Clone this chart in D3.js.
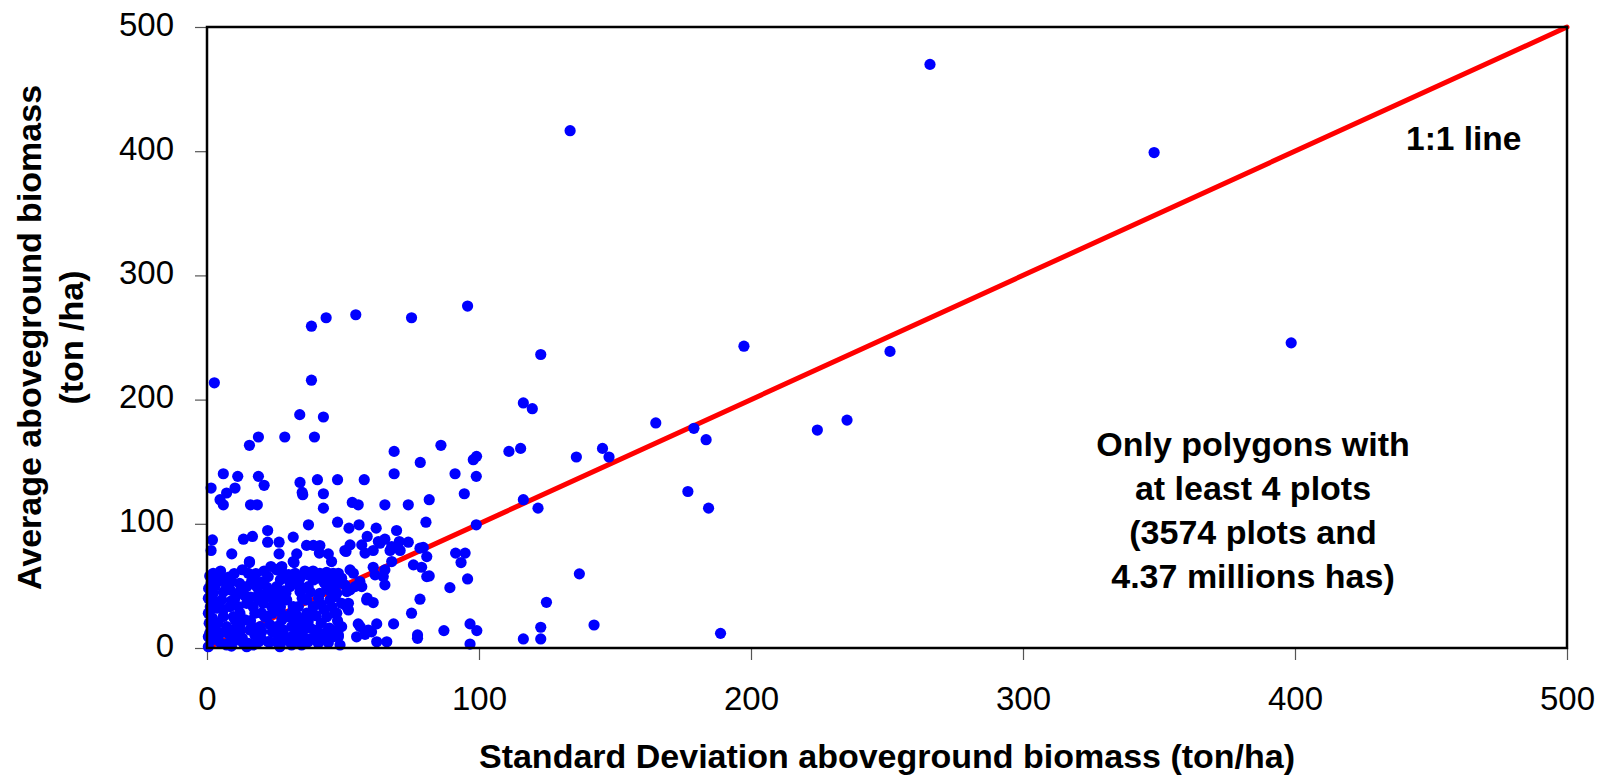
<!DOCTYPE html>
<html>
<head>
<meta charset="utf-8">
<script src="https://cdn.jsdelivr.net/npm/d3@7"></script>
<style>
  html, body { margin: 0; padding: 0; background: #fff; }
  svg { display: block; font-family: "Liberation Sans", Arial, Helvetica, sans-serif; }
</style>
</head>
<body>
<svg id="chart" width="1608" height="781"></svg>
<script>
// ---- data ----
const xTicks = [0, 100, 200, 300, 400, 500];
const yTicks = [0, 100, 200, 300, 400, 500];
const xTitle = "Standard Deviation aboveground biomass (ton/ha)";
const yTitleLines = ["Average aboveground biomass", "(ton /ha)"];
const lineLabel = "1:1 line";
const noteLines = ["Only polygons with", "at least 4 plots", "(3574 plots and", "4.37 millions has)"];
const oneToOne = [[0, 0], [500, 500]];

// Standard deviation (x) and average (y) aboveground biomass, ton/ha
const sdValues = [
  2.7, 38.4, 43.8, 54.7, 75.2, 95.8, 38.4, 34.1, 42.8, 18.9, 15.6, 28.6, 39.5, 68.8, 78.4, 86, 97.9, 99.1,
  6, 68.8, 91.2, 11.3, 18.9, 21, 1.5, 10.3, 7.2, 4.8, 6, 16, 18.5, 34.2, 35, 40.6, 42.8, 48, 42.8, 37.3, 48,
  22.3, 2, 13.4, 16.7, 22.3, 26.5, 31.7, 36.6, 39.1, 1.5, 9.1, 26.5, 33, 41.5, 44.6, 15.6, 31.7, 23.5, 27.5, 45.8,
  57.8, 99, 94.6, 81.7, 53.4, 55.6, 65.4, 74, 52.2, 55.9, 62.2, 69.7, 80.5, 99, 58.9, 63, 65.4, 70.7, 74,
  52.6, 56.9, 50.7, 58.1, 61.1, 67.3, 71, 79.5, 80.8, 91.4, 94.9, 93.4, 67.9, 75.9, 78.9, 61.1, 65.4, 52.6,
  81.7, 95.8, 61.8, 64.8, 65.4, 89.3, 48.3, 48.3, 54.4, 56.9, 51.4, 78.3, 58.9, 61.1, 52, 52, 75.2, 47.7,
  55.6, 62.4, 68.6, 96.7, 99.2, 87.1, 77.4, 77.4, 55, 58.1, 60.5, 48.3, 62.4, 66.1, 96.7,
  197.4, 122.7, 116.3, 119.6, 165, 179, 183.5, 111, 115.3, 135.8, 145.4, 147.8, 116.3, 121.7, 176.8, 184.4,
  136.9, 124.8, 122.7, 116.3, 122.7, 142.3, 188.8, 224.4, 235.3, 251.1, 265.8, 348.2, 398.6, 133.5,
  2.3, 4.8, 9.1, 15.6, 32, 41.3, 26.8, 46.4, 53.8, 51.1, 35.2, 80.8, 63.6, 67.9, 78.3, 52.6, 58.7, 51.4, 56.3, 59.3,
  0.5, 2.3, 0.5, 1.5, 0.5, 0.5, 3.6, 6, 4.8, 7.2, 10.3, 12.1, 14.6, 15.2, 16.4, 18.3, 20.7, 22.5,
  14.6, 17.6, 15.8, 17, 12.1, 9.7, 22.5, 25.6, 23.8, 26.8, 21.9, 25.6, 22.5, 26.2,
  29.3, 31.7, 30.5, 33, 34.2, 29.9, 32.4, 33, 31.1, 34.8, 37.2, 39.1, 41.5, 36.7, 39.1, 41.5, 37.2, 40.3, 38.5, 40.9,
  44, 46.4, 45.2, 47.7, 44, 43.4, 46.4, 7.2, 5.4, 8.5, 9.7, 7.2, 12.1, 14, 11.5, 13.4, 7.8, 18.9, 19.5, 18.3, 14.6, 20.7, 20.1,
  28.1, 29.3, 26.8, 36.7, 35.4, 33.6, 49.5, 50.7, 56.2, 2, 4.8, 8.5, 11.5, 17.6, 25.6, 32.4, 34.2, 37.2, 40.3,
  44.6, 47.1, 49.5, 47.1, 49.5, 48.3, 31.1, 34.8, 21.3, 27.5, 11.5, 10.3, 16.4, 2.9, 4.2, 1.1, 11.5, 17.6, 20.1,
  26.2, 28.7, 33.6, 37.2, 42.2, 44.6, 48.9, 41.5, 23.2, 25.6, 15.2,
  1, 0.8, 1.2, 0.6, 1.5, 2, 2.5, 3, 1, 3.6, 5.4, 1.1, 5, 9, 12, 16, 24, 28, 30, 36, 27, 42, 45, 19, 8, 13, 44, 28, 21,
  3, 6, 9, 12, 14, 17, 19, 22, 24, 27, 29, 31, 35, 38, 40, 43, 45, 47, 4, 6, 10, 13, 16, 20, 23, 28, 31, 35, 38, 42,
  46, 48, 5, 10, 18, 27, 34, 39, 43, 8, 24, 30, 36, 12, 21, 3, 25, 33, 41, 47
];
const avgValues = [
  213.5, 259.1, 265.9, 268.3, 265.9, 275.3, 215.6, 187.9, 186, 169.9, 163.2, 169.9, 169.9, 158.3, 149.4, 163.2, 151.6, 154.3,
  140.3, 140.3, 140.3, 138.2, 138.2, 131, 128.8, 128.8, 124.8, 119.4, 115.3, 115.3, 115.3, 133.3, 125.3, 135.5, 124.2, 135.5, 112.6, 99.2, 101.3,
  94.6, 87, 87.6, 89.8, 85.2, 85.2, 89.3, 82.6, 82.6, 78.5, 75.8, 75.8, 75.8, 82.5, 75.8, 69.6, 69.6, 65.6, 65.6, 69.6,
  135.5, 138.2, 124.2, 119.4, 117.2, 115.3, 115.3, 115.3, 96.5, 99.2, 96.5, 94.6, 101.3, 99.2, 89.8, 85.7, 87.6, 85.7, 85.2,
  83, 83, 78.5, 76.4, 78.5, 78.5, 78.5, 81, 73.6, 76.4, 76.4, 68.8, 69.6, 66.9, 65, 65, 62.9, 62.9,
  58, 55.6, 58.9, 57.5, 50.8, 48.6, 60.2, 52.2, 49.4, 49.4, 45.4, 39.3, 40.1, 36.6, 36, 30.6, 28, 28,
  19.4, 19.4, 19.4, 19.4, 14, 14, 10.5, 7.8, 9, 11, 13, 10.5, 5, 5, 3.2,
  243, 236.3, 197.3, 192.7, 181.2, 176.9, 167.7, 158.3, 160.7, 153.8, 160.7, 153.8, 119.4, 112.6, 126, 112.6,
  59.7, 36.8, 16.7, 7.3, 7.3, 18.5, 11.8, 175.5, 183.5, 238.8, 469.9, 398.9, 245.7, 416.5,
  60.2, 58.9, 53.5, 68.8, 68.8, 76.4, 64.3, 60.2, 60.2, 77.7, 123.4, 57.5, 84.4, 81.7, 80.4, 46.8, 38.7, 33.3, 17.2, 14.5,
  40, 44, 28, 17, 9, 1, 32, 25.3, 11.9, 2.4, 40, 45.4, 49.4, 60.2, 53.5, 49.4, 53.5, 57.5,
  36, 28, 14.5, 2.4, 17.2, 10.5, 44.1, 49.4, 33.3, 38.7, 25.2, 17.2, 5.1, 6.5,
  38.7, 33.3, 49.4, 54.8, 45.4, 25.2, 19.9, 11.9, 2.4, 2.4, 49.4, 54.8, 60.2, 38.7, 33.3, 44.1, 21.2, 14.5, 7.8, 3.8,
  49.4, 54.8, 38.7, 44.1, 25.2, 11.9, 9.1, 49.4, 38.7, 33.3, 25.2, 17.2, 28, 22.6, 9.1, 3.8, 11.9, 38.7, 17.2, 11.9, 1, 36, 28,
  14.5, 6.5, 1, 28, 14.5, 33.3, 56.2, 50.8, 53.5, 57.5, 54.3, 46.8, 44.1, 54.8, 62.9, 60.2, 56.2, 58.9, 56.2,
  46.8, 41.4, 36, 28, 17.2, 9.1, 17.2, 14.5, 25.2, 22.6, 33.3, 22.6, 17.2, 17.2, 11.9, 7.8, 6.5, 10.5, 13.1,
  10.5, 6.5, 6.5, 5.1, 7.8, 4.3, 2.4, 10.5, 5, 5, 3.8,
  12, 20, 33, 48, 52, 24, 7, 15, 58, 57.5, 56.2, 41.4, 4, 1.5, 13, 41, 40, 46, 55, 62, 29, 35, 16, 5, 57, 63, 61, 60, 62,
  50, 45, 38, 52, 42, 33, 44, 49, 28, 33, 44, 28, 22, 45, 26, 31, 57, 50, 20, 31, 15, 8, 22, 7, 19, 10, 9, 40, 16, 20,
  33, 22, 62, 60, 60, 55, 50, 62, 53, 4, 13, 59, 8, 24, 40, 37, 44, 26, 40, 14
];

// ---- chart ----
const svg = d3.select("#chart");
const plotLeft = 207, plotRight = 1567, plotTop = 27, plotBottom = 648;
const x = d3.scaleLinear().domain([0, 500]).range([plotLeft, plotRight]);
const y = d3.scaleLinear().domain([0, 500]).range([plotBottom, plotTop]);
const font = '"Liberation Sans", Arial, Helvetica, sans-serif';

// axes (ticks + labels)
const xAxis = svg.append("g").attr("transform", `translate(0,${plotBottom})`)
  .call(d3.axisBottom(x).tickValues(xTicks).tickSize(12).tickSizeOuter(0).tickFormat(d3.format("d")));
const yAxis = svg.append("g").attr("transform", `translate(${plotLeft},0)`)
  .call(d3.axisLeft(y).tickValues(yTicks).tickSize(12).tickSizeOuter(0).tickFormat(d3.format("d")));
[xAxis, yAxis].forEach(g => {
  g.select(".domain").remove();
  g.selectAll(".tick line").attr("stroke", "#555").attr("stroke-width", 1.2);
  g.selectAll(".tick text").attr("fill", "#000").style("font-family", font).style("font-size", "33px");
});
xAxis.selectAll(".tick text").attr("y", 62).attr("dy", 0);
yAxis.selectAll(".tick text").attr("x", -33).attr("dy", 0).attr("y", 8);

// 1:1 line (under points)
svg.append("path")
  .datum(oneToOne)
  .attr("d", d3.line().x(d => x(d[0])).y(d => y(d[1])))
  .attr("stroke", "#ff0000").attr("stroke-width", 5).attr("stroke-linecap", "round").attr("fill", "none");

// points
const pts = sdValues.map((v, i) => [v, avgValues[i]]);
svg.append("g").selectAll("circle").data(pts).join("circle")
  .attr("cx", d => x(d[0])).attr("cy", d => y(d[1])).attr("r", 5.6)
  .attr("fill", "#0000ff");

// frame
svg.append("rect")
  .attr("x", plotLeft).attr("y", plotTop).attr("width", plotRight - plotLeft).attr("height", plotBottom - plotTop)
  .attr("fill", "none").attr("stroke", "#000").attr("stroke-width", 2.5);

// titles
svg.append("text").attr("x", (plotLeft + plotRight) / 2).attr("y", 768)
  .attr("text-anchor", "middle").style("font-family", font).style("font-size", "34px").style("font-weight", "bold")
  .text(xTitle);
yTitleLines.forEach((t, i) => {
  svg.append("text")
    .attr("transform", `translate(${41 + i * 42},${(plotTop + plotBottom) / 2}) rotate(-90)`)
    .attr("text-anchor", "middle").style("font-family", font).style("font-size", "34px").style("font-weight", "bold")
    .text(t);
});

// annotations
svg.append("text").attr("x", 1406).attr("y", 150)
  .style("font-family", font).style("font-size", "33.5px").style("font-weight", "bold").text(lineLabel);
noteLines.forEach((t, i) => {
  svg.append("text").attr("x", 1253).attr("y", 456 + i * 44)
    .attr("text-anchor", "middle").style("font-family", font).style("font-size", "34px").style("font-weight", "bold")
    .text(t);
});
</script>
</body>
</html>
